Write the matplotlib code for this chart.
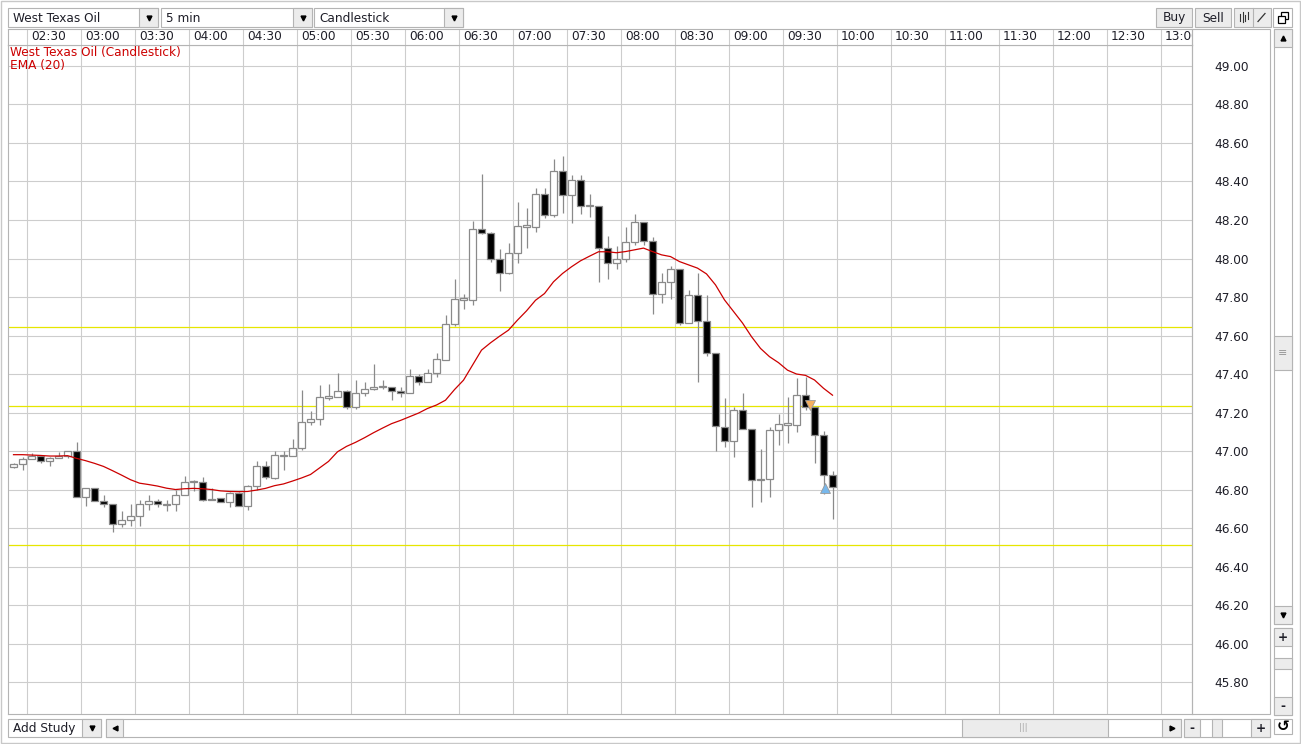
import numpy as np
import matplotlib
matplotlib.use("Agg")
import matplotlib.pyplot as plt
from matplotlib.patches import Rectangle

# Свічки West Texas Oil, 5 хв, перша свічка о 02:20
first_bar_min = 140
bar_len_min = 5

opens = [46.915, 46.93, 46.957, 46.972, 46.946, 46.962, 46.972, 46.998, 46.759, 46.806,
         46.738, 46.723, 46.623, 46.644, 46.66, 46.723, 46.738, 46.72, 46.723, 46.769,
         46.837, 46.837, 46.75, 46.754, 46.733, 46.78, 46.717, 46.816, 46.92, 46.86,
         46.972, 46.972, 47.016, 47.152, 47.166, 47.278, 47.28, 47.312, 47.229, 47.30,
         47.322, 47.332, 47.335, 47.312, 47.302, 47.39, 47.358, 47.405, 47.475, 47.659,
         47.787, 47.787, 48.151, 48.13, 48.00, 47.927, 48.031, 48.166, 48.164, 48.334,
         48.225, 48.452, 48.329, 48.41, 48.272, 48.275, 48.052, 47.979, 47.998, 48.085,
         48.189, 48.09, 47.815, 47.879, 47.945, 47.664, 47.81, 47.674, 47.508, 47.126,
         47.05, 47.211, 47.113, 46.848, 46.856, 47.107, 47.137, 47.134, 47.289, 47.227,
         47.082, 46.874]
highs = [46.94, 46.97, 46.99, 46.98, 46.97, 46.993, 46.998, 47.048, 46.81, 46.806,
         46.774, 46.723, 46.686, 46.723, 46.748, 46.769, 46.75, 46.748, 46.80, 46.868,
         46.848, 46.863, 46.81, 46.754, 46.785, 46.785, 46.826, 46.946, 46.95, 46.998,
         46.998, 47.065, 47.318, 47.208, 47.344, 47.35, 47.403, 47.318, 47.37, 47.36,
         47.45, 47.367, 47.335, 47.332, 47.428, 47.398, 47.428, 47.509, 47.707, 47.892,
         47.818, 48.197, 48.438, 48.138, 48.048, 48.078, 48.291, 48.26, 48.367, 48.364,
         48.516, 48.533, 48.433, 48.433, 48.334, 48.275, 48.116, 48.065, 48.163, 48.232,
         48.189, 48.114, 47.924, 47.962, 47.945, 47.837, 47.924, 47.81, 47.508, 47.274,
         47.227, 47.30, 47.113, 47.009, 47.126, 47.192, 47.279, 47.378, 47.383, 47.227,
         47.105, 46.895]
lows = [46.91, 46.90, 46.957, 46.936, 46.92, 46.962, 46.962, 46.759, 46.717, 46.738,
        46.707, 46.577, 46.603, 46.608, 46.608, 46.696, 46.71, 46.69, 46.69, 46.769,
        46.79, 46.738, 46.743, 46.733, 46.707, 46.712, 46.696, 46.80, 46.855, 46.855,
        46.90, 46.972, 47.003, 47.137, 47.137, 47.266, 47.28, 47.218, 47.218, 47.286,
        47.315, 47.324, 47.265, 47.28, 47.302, 47.343, 47.358, 47.384, 47.475, 47.648,
        47.74, 47.761, 48.125, 47.982, 47.832, 47.922, 47.977, 48.055, 48.138, 48.208,
        48.216, 48.238, 48.182, 48.229, 48.216, 47.878, 47.891, 47.944, 47.981, 48.068,
        48.068, 47.714, 47.771, 47.792, 47.656, 47.664, 47.36, 47.491, 46.998, 47.022,
        46.97, 47.113, 46.708, 46.737, 46.763, 47.031, 47.043, 47.10, 47.213, 46.936,
        46.777, 46.648]
closes = [46.93, 46.958, 46.972, 46.946, 46.962, 46.972, 46.998, 46.759, 46.806, 46.738,
          46.723, 46.623, 46.644, 46.66, 46.723, 46.738, 46.723, 46.725, 46.769, 46.837,
          46.842, 46.748, 46.745, 46.733, 46.78, 46.717, 46.816, 46.92, 46.863, 46.981,
          46.981, 47.016, 47.152, 47.166, 47.28, 47.282, 47.312, 47.229, 47.30, 47.322,
          47.332, 47.335, 47.312, 47.302, 47.39, 47.358, 47.405, 47.478, 47.659, 47.792,
          47.792, 48.151, 48.133, 48.00, 47.927, 48.031, 48.168, 48.17, 48.334, 48.225,
          48.452, 48.329, 48.41, 48.272, 48.276, 48.052, 47.979, 47.996, 48.085, 48.189,
          48.09, 47.815, 47.879, 47.945, 47.664, 47.81, 47.674, 47.508, 47.13, 47.05,
          47.211, 47.113, 46.848, 46.856, 47.107, 47.139, 47.139, 47.289, 47.227, 47.082,
          46.874, 46.811]
ema20 = [46.981, 46.981, 46.979, 46.977, 46.974, 46.974, 46.976, 46.962, 46.95, 46.936,
         46.92, 46.898, 46.875, 46.851, 46.833, 46.826, 46.818, 46.807, 46.80, 46.804,
         46.806, 46.804, 46.80, 46.793, 46.79, 46.789, 46.79, 46.797, 46.806, 46.82,
         46.829, 46.844, 46.86, 46.878, 46.912, 46.946, 46.996, 47.024, 47.045, 47.069,
         47.095, 47.119, 47.142, 47.159, 47.178, 47.197, 47.221, 47.239, 47.264, 47.319,
         47.368, 47.446, 47.524, 47.562, 47.596, 47.628, 47.68, 47.728, 47.783, 47.818,
         47.879, 47.922, 47.957, 47.988, 48.012, 48.035, 48.035, 48.03, 48.036, 48.045,
         48.054, 48.036, 48.019, 48.01, 47.984, 47.967, 47.95, 47.92, 47.863, 47.785,
         47.725, 47.665, 47.594, 47.533, 47.49, 47.459, 47.42, 47.40, 47.393, 47.369,
         47.326, 47.29]

# рівні (жовті лінії) та позначки угод
level_prices = [47.643, 47.234, 46.51]
sell_time, sell_price = 585.0, 47.24
buy_time, buy_price = 593.3, 46.81

time_ticks = list(range(150, 781, 30))
time_labels = [f"{m // 60:02d}:{m % 60:02d}" for m in time_ticks]
price_ticks = [round(45.8 + 0.2 * i, 2) for i in range(17)]

W, H = 1301, 744
GRID = "#cdcdcd"
BORDER = "#b4b4b4"
BTN = "#ececec"
TXT = "#1e1e28"
RED = "#cc0000"
EDGE = "#8a8a8a"
FS = 8.7


def px_rect(x0, y0, x1, y1):
    return [x0 / W, 1 - y1 / H, (x1 - x0) / W, (y1 - y0) / H]


fig = plt.figure(figsize=(W / 100, H / 100), dpi=100)
fig.patch.set_facecolor("white")

ax = fig.add_axes(px_rect(8, 45, 1192, 714))
axh = fig.add_axes(px_rect(8, 29, 1192, 45), sharex=ax)

# основний графік
t = first_bar_min + bar_len_min * np.arange(len(opens)) + 2.5
o = np.array(opens)
c = np.array(closes)
up = c >= o
body_lo = np.minimum(o, c)
body_h = np.maximum(np.abs(c - o), 0.006)

for lvl in level_prices:
    ax.axhline(lvl, color="#e6e600", lw=0.9, zorder=2)
ax.vlines(t, lows, highs, color=EDGE, lw=0.9, zorder=3)
ax.bar(t, body_h, bottom=body_lo, width=3.6,
       color=np.where(up, "white", "black"), edgecolor=EDGE, lw=0.9, zorder=4)
ax.plot(t, ema20, color=RED, lw=0.9, zorder=5)
ax.plot(sell_time, sell_price, marker="v", ms=7.5, color="#f5b060",
        markeredgecolor="#9a9a9a", mew=0.6, zorder=6)
ax.plot(buy_time, buy_price, marker="^", ms=7.5, color="#78b8ec",
        markeredgecolor="#9a9a9a", mew=0.6, zorder=6)

ax.set_xlim(139.444, 797.222)
ax.set_ylim(45.634, 49.109)
ax.set_xticks(time_ticks)
ax.set_yticks(price_ticks)
ax.set_yticklabels([f"{p:.2f}" for p in price_ticks])
ax.yaxis.tick_right()
ax.tick_params(axis="y", length=0, pad=16, labelsize=FS, labelcolor=TXT)
ax.tick_params(axis="x", length=0, labelbottom=False)
ax.grid(True, color=GRID, lw=0.8)
ax.set_axisbelow(True)
for s in ax.spines.values():
    s.set_color(BORDER)
    s.set_linewidth(0.8)

# рядок з часом
axh.set_ylim(0, 1)
axh.set_yticks([])
axh.tick_params(axis="x", length=0, labelbottom=False)
axh.grid(True, axis="x", color=GRID, lw=0.8)
for s in axh.spines.values():
    s.set_color(BORDER)
    s.set_linewidth(0.8)
for m, lbl in zip(time_ticks, time_labels):
    axh.text(m + 2.2, 0.5, lbl, transform=axh.get_xaxis_transform(),
             ha="left", va="center", fontsize=FS, color=TXT, clip_on=True)

# елементи інтерфейсу
ui = fig.add_axes([0, 0, 1, 1], zorder=10)
ui.set_xlim(0, W)
ui.set_ylim(H, 0)
ui.axis("off")
ui.patch.set_alpha(0)


def box(x0, y0, x1, y1, fc="white", ec=BORDER, lw=0.8):
    ui.add_patch(Rectangle((x0, y0), x1 - x0, y1 - y0, facecolor=fc, edgecolor=ec, lw=lw))


def combo(x0, x1, y0, y1, text):
    box(x0, y0, x1, y1)
    box(x1 - 19, y0, x1, y1, fc=BTN)
    ui.plot(x1 - 9.5, (y0 + y1) / 2, marker="v", ms=3.5, color="black")
    ui.text(x0 + 5, (y0 + y1) / 2 + 0.5, text, ha="left", va="center", fontsize=FS, color=TXT)


def button(x0, y0, x1, y1, text=None, marker=None):
    box(x0, y0, x1, y1, fc=BTN)
    cx, cy = (x0 + x1) / 2, (y0 + y1) / 2
    if marker:
        ui.plot(cx, cy, marker=marker, ms=3.5, color="black")
    if text:
        ui.text(cx, cy + 0.5, text, ha="center", va="center", fontsize=FS, color=TXT,
                fontweight="bold" if text in "+-" else "normal")


ui.add_patch(Rectangle((0.5, 0.5), W - 2, H - 2, facecolor="none", edgecolor="#c8c8c8", lw=1))

# верхня панель
combo(8, 158, 8, 27, "West Texas Oil")
combo(161, 312, 8, 27, "5 min")
combo(314, 463, 8, 27, "Candlestick")
button(1156, 8, 1192, 27, "Buy")
button(1195, 8, 1231, 27, "Sell")
box(1234, 8, 1271, 27, fc=BTN)
ui.plot([1253, 1253], [8, 27], color=BORDER, lw=0.8)
for xb, ya, yb in [(1240, 14, 21), (1242.5, 12, 22), (1245, 15, 21), (1247.5, 12, 19)]:
    ui.plot([xb, xb], [ya, yb], color="#333333", lw=0.8)
ui.plot([1258, 1265], [21.5, 13.5], color="#333333", lw=0.9)
box(1273, 8, 1292, 27)
ui.add_patch(Rectangle((1281, 12), 7, 7, facecolor="white", edgecolor="black", lw=0.9))
ui.add_patch(Rectangle((1278, 16), 7, 7, facecolor="white", edgecolor="black", lw=0.9))

# підписи серій
ui.text(10, 52.5, "West Texas Oil (Candlestick)", ha="left", va="center", fontsize=FS, color=RED)
ui.text(10, 65, "EMA (20)", ha="left", va="center", fontsize=FS, color=RED)

# шкала цін та вертикальний скрол
box(1192, 29, 1270, 714, fc="none")
box(1274, 29, 1292, 624)
button(1274, 29, 1292, 47, marker="^")
box(1274, 336, 1292, 370, fc=BTN)
ui.text(1283, 353, "≡", ha="center", va="center", fontsize=8, color="#999999")
button(1274, 606, 1292, 624, marker="v")
box(1274, 628, 1292, 715)
button(1274, 628, 1292, 646, "+")
box(1274, 658, 1292, 669, fc=BTN)
button(1274, 697, 1292, 715, "-")
box(1274, 719, 1292, 734)
ui.text(1283, 726.5, "↺", ha="center", va="center", fontsize=11, color="black", fontweight="bold")

# нижня панель
combo(8, 101, 719, 737, "Add Study")
box(106, 719, 1181, 737)
button(106, 719, 123, 737, marker="<")
box(962, 719, 1108, 737, fc=BTN)
ui.text(1023, 728, "|||", ha="center", va="center", fontsize=6, color="#aaaaaa")
button(1162, 719, 1181, 737, marker=">")
box(1184, 719, 1270, 737)
button(1184, 719, 1200, 737, "-")
box(1212, 719, 1222, 737, fc=BTN)
button(1251, 719, 1270, 737, "+")

fig.savefig("out.png", dpi=100)
